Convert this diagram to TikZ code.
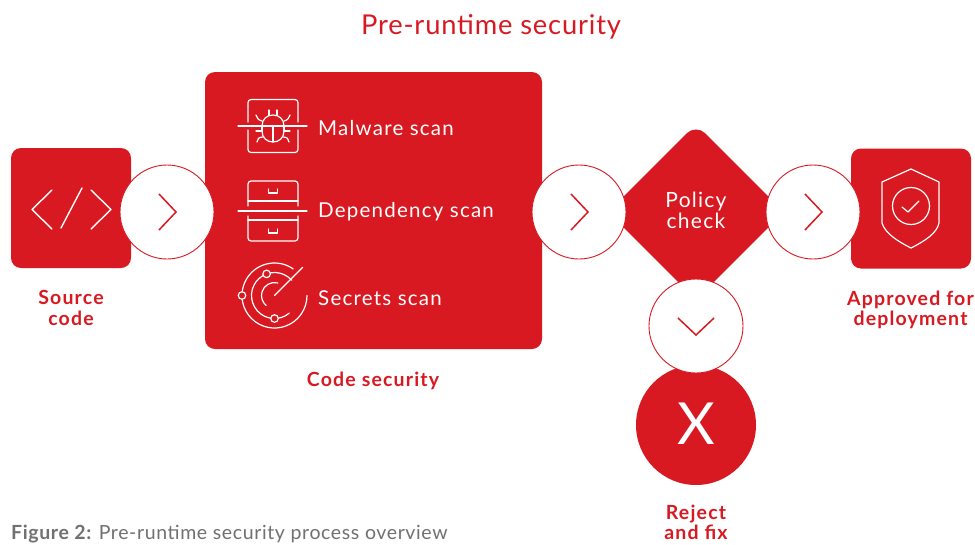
\documentclass[tikz,border=0pt]{standalone}
\usepackage{fontspec}
\setmainfont{Lato}[LetterSpace=3]
\newfontfamily\widefont{Lato}[LetterSpace=6]
\newfontfamily\capfont{Lato}[LetterSpace=3.2]
\usetikzlibrary{shapes.geometric}
\definecolor{rh}{HTML}{D81921}
\definecolor{cap}{HTML}{707070}
\newcommand{\fs}[1]{\fontsize{#1}{#1}\selectfont}
\tikzset{
  panel/.style={fill=rh,rounded corners=10pt,inner sep=0pt,minimum width=#1},
  stepcircle/.style={circle,draw=rh,fill=white,line width=0.9pt,minimum size=94pt,inner sep=0pt},
  chev/.style={draw=rh,line width=1.5pt,line join=miter},
  icon/.style={draw=white,line width=1.4pt,line cap=round,line join=round},
  iconfine/.style={draw=white,line width=1.2pt,line cap=round,line join=round},
  whitetext/.style={text=white,align=center,font=\widefont\fs{21}},
  scanlabel/.style={text=white,anchor=west,inner sep=0pt,font=\widefont\fs{20.5}},
  redlabel/.style={text=rh,align=center,font=\widefont\fs{19.5}\bfseries},
}
\begin{document}
\begin{tikzpicture}[x=1pt,y=1pt,yscale=-1]
\useasboundingbox (0,0) rectangle (975,544);
\node[text=rh,font=\fs{27.3}] (title) at (491,26.5) {Pre-runtime security};

% boxes
\node[panel=120pt,minimum height=120pt] (source) at (71,208) {};
\node[panel=337pt,minimum height=277pt] (code) at (373.5,210.5) {};
\node[panel=120pt,minimum height=120pt] (approved) at (911,208.5) {};
\node[diamond,aspect=1,fill=rh,rounded corners=13pt,inner sep=0pt,minimum width=176pt,minimum height=176pt] (policy) at (696,212) {};
\node[circle,fill=rh,minimum size=120pt,inner sep=0pt] (reject) at (696,425) {};

% circles
\node[stepcircle] (c1) at (167,212) {};
\node[stepcircle] (c2) at (579,212) {};
\node[stepcircle] (c3) at (813,212) {};
\node[stepcircle] (c4) at (696,326) {};

% chevrons
\draw[chev] ([shift={(-8,-18)}]c1.center) -- ([shift={(9,0)}]c1.center) -- ([shift={(-8,18)}]c1.center);
\draw[chev] ([shift={(-8,-18)}]c2.center) -- ([shift={(9,0)}]c2.center) -- ([shift={(-8,18)}]c2.center);
\draw[chev] ([shift={(-8,-18)}]c3.center) -- ([shift={(9,0)}]c3.center) -- ([shift={(-8,18)}]c3.center);
\draw[chev] ([shift={(-18,-8)}]c4.center) -- ([shift={(0,9)}]c4.center) -- ([shift={(18,-8)}]c4.center);

% code icon
\draw[icon] (52,190) -- (32,209.5) -- (52,229);
\draw[icon] (61,228) -- (82,188);
\draw[icon] (91,190) -- (111,209.5) -- (91,229);

% bug icon
\draw[iconfine,rounded corners=3pt] (248,122) -- (248,99.5) -- (298,99.5) -- (298,122);
\draw[iconfine,rounded corners=3pt] (248,130) -- (248,152.5) -- (298,152.5) -- (298,130);
\draw[iconfine] (238,126) -- (307,126);
\draw[iconfine] (262,126) .. controls (262,119) and (267,115) .. (273,115) .. controls (279,115) and (284,119) .. (284,126);
\draw[iconfine] (262,131) .. controls (262,138) and (267,142) .. (273,142) .. controls (279,142) and (284,138) .. (284,131);
\draw[iconfine] (262,131) -- (262,126) (284,131) -- (284,126) (273,126) -- (273,142);
\draw[iconfine] (269,115) -- (269,110) (277,115) -- (277,110);
\draw[iconfine] (262,121) .. controls (258,120) and (257,118) .. (256,115);
\draw[iconfine] (284,121) .. controls (288,120) and (289,118) .. (290,115);
\draw[iconfine] (256,131) -- (262,131) (284,131) -- (290,131);
\draw[iconfine] (263,137) .. controls (259,137) and (257,139) .. (257,142);
\draw[iconfine] (283,137) .. controls (287,137) and (289,139) .. (289,142);

% drawers icon
\draw[iconfine,rounded corners=3pt] (248,206) -- (248,181) -- (298,181) -- (298,206);
\draw[iconfine] (248,201) -- (298,201);
\draw[iconfine] (238,211) -- (307,211);
\draw[iconfine,rounded corners=3pt] (248,216) -- (248,241) -- (298,241) -- (298,216);
\draw[iconfine] (248,220) -- (298,220);
\draw[iconfine] (268.5,189) -- (268.5,193) -- (277.5,193) -- (277.5,189);
\draw[iconfine] (268.5,229) -- (268.5,233) -- (277.5,233) -- (277.5,229);

% radar icon
\begin{scope}[shift={(274.5,295.5)},yscale=-1]
  \draw[iconfine] (55:32.5) arc[start angle=55,end angle=360,radius=32.5];
  \draw[iconfine] (42:23) arc[start angle=42,end angle=310,radius=23];
  \draw[iconfine] (75:13) arc[start angle=75,end angle=230,radius=13];
  \draw[iconfine] (0,0) -- (45:40);
  \node[circle,draw=white,fill=rh,line width=1.2pt,minimum size=7.5pt,inner sep=0pt] (d1) at (180:32.5) {};
  \node[circle,draw=white,fill=rh,line width=1.2pt,minimum size=7.5pt,inner sep=0pt] (d2) at (110:23) {};
  \node[circle,draw=white,fill=rh,line width=1.2pt,minimum size=7.5pt,inner sep=0pt] (d3) at (270:23) {};
\end{scope}

% shield icon
\draw[iconfine] (911,169) -- (939,182) -- (939,223) .. controls (937,233) and (925,241) .. (911,248) .. controls (897,241) and (885,233) .. (882,223) -- (882,182) -- cycle;
\node[circle,draw=white,line width=1.2pt,minimum size=37pt,inner sep=0pt] (shieldring) at (911,206) {};
\draw[iconfine] (902,207) -- (908,212) -- (919,201);

% texts
\node[scanlabel] (t1) at (318,128) {Malware scan};
\node[scanlabel] (t2) at (318,212) {Dependency scan};
\node[scanlabel] (t3) at (318,298) {Secrets scan};
\node[whitetext] (t4) at (696,210.5) {Policy\\[0pt]check};
\node[text=white,font=\fs{58}] (x) at (696,424) {X};

\node[redlabel] (l1) at (71,308) {Source\\[1pt]code};
\node[redlabel] (l2) at (373,381) {Code security};
\node[redlabel] (l3) at (910.5,310) {Approved for\\[1pt]deployment};
\node[redlabel] (l4) at (696,522.5) {Reject\\[0pt]and fix};

\node[text=cap,anchor=west,font=\capfont\fs{19.5},inner sep=0pt] (figcap) at (11,534.5) {{\bfseries Figure 2:} Pre-runtime security process overview};
\end{tikzpicture}
\end{document}
